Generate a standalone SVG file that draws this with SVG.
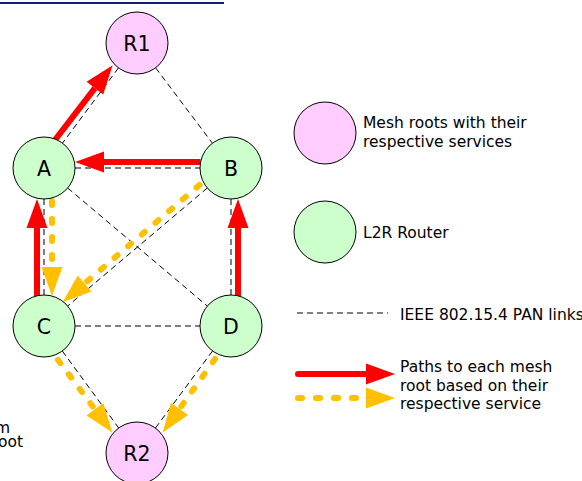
<svg xmlns="http://www.w3.org/2000/svg" width="582" height="481" viewBox="0 0 582 481">
  <style>
    .root { fill: #FFCCFF; stroke: #000; stroke-width: 1; }
    .router { fill: #CCFFCC; stroke: #000; stroke-width: 1; }
    .label { font-family: "DejaVu Sans", "Liberation Sans", sans-serif; font-size: 20.5px; fill: #000; text-anchor: middle; }
    .txt { font-family: "DejaVu Sans", "Liberation Sans", sans-serif; font-size: 15.5px; fill: #000; }
    .link { stroke: #000; stroke-width: 1; stroke-dasharray: 6 4; fill: none; }
    .red { stroke: #FF0000; stroke-width: 6; fill: none; marker-end: url(#headRed); }
    .gold { stroke: #FFC000; stroke-width: 6; fill: none; stroke-linecap: round; stroke-dasharray: 4 14; marker-end: url(#headGold); }
  </style>
  <defs>
    <marker id="headRed" markerUnits="userSpaceOnUse" markerWidth="30" markerHeight="22" refX="0" refY="11" orient="auto" overflow="visible">
      <path d="M0,0.5 L29,11 L0,21.5 Z" fill="#FF0000"/>
    </marker>
    <marker id="headGold" markerUnits="userSpaceOnUse" markerWidth="30" markerHeight="22" refX="0" refY="11" orient="auto" overflow="visible">
      <path d="M0,0.5 L29,11 L0,21.5 Z" fill="#FFC000"/>
    </marker>
  </defs>

  <!-- header rule -->
  <rect x="0" y="2" width="224" height="2" fill="#0C2266"/>

  <!-- 802.15.4 links and service paths -->
  <g id="connectors">
    <line class="link" x1="118.5" y1="67.9" x2="62.5" y2="143.1"/>
    <line class="link" x1="155.6" y1="67.8" x2="212.4" y2="143.2"/>
    <line class="link" x1="75" y1="168" x2="200" y2="168"/>
    <line class="link" x1="44" y1="199" x2="44" y2="295"/>
    <line class="link" x1="231" y1="199" x2="231" y2="295"/>
    <line class="link" x1="75" y1="326" x2="200" y2="326"/>
    <line class="link" x1="67.7" y1="188" x2="207.3" y2="306"/>
    <line class="link" x1="207.3" y1="188" x2="67.7" y2="306"/>
    <line class="link" x1="62.3" y1="351" x2="118.7" y2="428"/>
    <line class="link" x1="212.6" y1="350.9" x2="155.4" y2="428.1"/>

    <line class="red" x1="55" y1="140" x2="94.9" y2="88.2"/>
    <line class="red" x1="200.5" y1="162" x2="104" y2="162"/>
    <line class="red" x1="37" y1="296" x2="37" y2="228"/>
    <line class="red" x1="238" y1="296" x2="238" y2="228"/>

    <line class="gold" x1="52" y1="201" x2="52" y2="267"/>
    <line class="gold" x1="199.5" y1="185" x2="84.6" y2="283.5"/>
    <line class="gold" x1="58" y1="360" x2="94.9" y2="409.3"/>
    <line class="gold" x1="215" y1="359" x2="179.5" y2="408.9"/>
  </g>

  <g id="R1"><circle class="root" cx="137" cy="43" r="31"/><text class="label" x="137" y="50.5">R1</text></g>
  <g id="A"><circle class="router" cx="44" cy="168" r="31"/><text class="label" x="44" y="176">A</text></g>
  <g id="B"><circle class="router" cx="231" cy="168" r="31"/><text class="label" x="231" y="176">B</text></g>
  <g id="C"><circle class="router" cx="44" cy="326" r="31"/><text class="label" x="44" y="334">C</text></g>
  <g id="D"><circle class="router" cx="231" cy="326" r="31"/><text class="label" x="231" y="334">D</text></g>
  <g id="R2"><circle class="root" cx="137" cy="453" r="31"/><text class="label" x="137" y="460.5">R2</text></g>

  <!-- legend -->
  <g id="legend">
    <circle class="root" cx="325" cy="133" r="31"/>
    <text class="txt" x="363" y="128">Mesh roots with their</text>
    <text class="txt" x="363" y="147">respective services</text>
    <circle class="router" cx="325" cy="232" r="31"/>
    <text class="txt" x="363" y="238">L2R Router</text>
    <line class="link" x1="297" y1="313" x2="388" y2="313"/>
    <text class="txt" x="400" y="320">IEEE 802.15.4 PAN links</text>
    <line class="red" x1="298" y1="374" x2="366" y2="374" stroke-linecap="round"/>
    <line class="gold" x1="298" y1="398" x2="366" y2="398"/>
    <text class="txt" x="400" y="372">Paths to each mesh</text>
    <text class="txt" x="400" y="391">root based on their</text>
    <text class="txt" x="400" y="409">respective service</text>
  </g>

  <!-- partly visible side note -->
  <text class="txt" x="10" y="432.5" text-anchor="end">m</text>
  <text class="txt" x="23" y="446.5" text-anchor="end">oot</text>
</svg>
